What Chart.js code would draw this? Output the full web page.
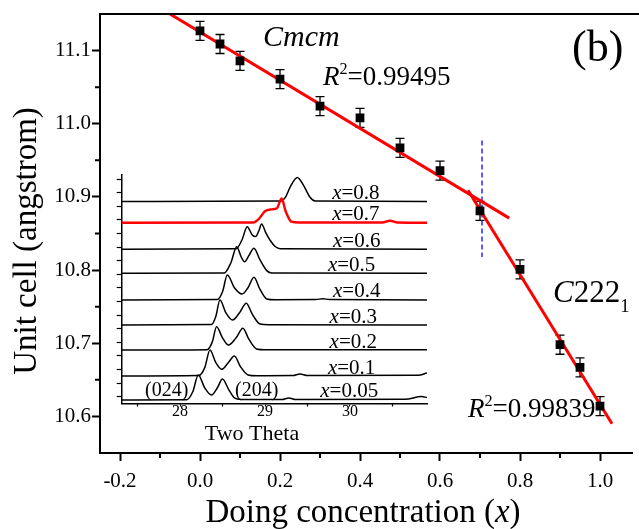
<!DOCTYPE html>
<html lang="en">
<head>
<meta charset="UTF-8">
<title>Unit cell vs doping concentration</title>
<script src="https://cdn.jsdelivr.net/npm/chart.js"></script>
<style>
  body { margin: 0; background: #fff; overflow: hidden; }
  #wrap { position: relative; width: 639px; height: 529px; }
  #wrap canvas { position: absolute; left: 0; top: 0; }
</style>
</head>
<body>
<div id="wrap">
  <canvas id="mainChart" width="639" height="529"></canvas>
  <canvas id="insetChart" width="639" height="529"></canvas>
</div>
<script>
// ---- main panel: unit cell vs x ----
const conc    = [0.0, 0.05, 0.1, 0.2, 0.3, 0.4, 0.5, 0.6, 0.7, 0.8, 0.9, 0.95, 1.0];
const cell    = [11.127, 11.109, 11.086, 11.061, 11.024, 11.008, 10.967, 10.936, 10.881, 10.801, 10.698, 10.667, 10.614];
const cellErr = [0.013, 0.013, 0.013, 0.013, 0.013, 0.013, 0.013, 0.013, 0.013, 0.013, 0.013, 0.013, 0.013];

const fitCmcmX = [-0.075, 0.773];
const fitCmcmY = [11.15, 10.871];
const fitC222X = [0.670, 1.030];
const fitC222Y = [10.909, 10.590];
const boundaryX = [0.705, 0.705];
const boundaryY = [10.977, 10.818];

const xMajor = [-0.2, 0.0, 0.2, 0.4, 0.6, 0.8, 1.0];
const xMinor = [-0.1, 0.1, 0.3, 0.5, 0.7, 0.9];
const yMajor = [10.6, 10.7, 10.8, 10.9, 11.0, 11.1];
const yMinor = [10.65, 10.75, 10.85, 10.95, 11.05];

// ---- inset: XRD scans, [2theta, intensity] ----
const scanNames  = ['0.05', '0.1', '0.2', '0.3', '0.4', '0.5', '0.6', '0.7', '0.8'];
const scanOffset = [-0.24, 1.52, 3.43, 5.27, 7.11, 9.07, 10.84, 12.79, 14.36];
const scanLabelTheta = [29.65, 29.74, 29.76, 29.76, 29.80, 29.74, 29.80, 29.79, 29.79];
const scans = [
  [[27.314,0],[28.08,0.02],[28.15,0.6],[28.215,1.84],[28.29,0.9],[28.37,0.37],[28.44,0.9],[28.50,1.54],[28.57,0.8],[28.64,0.15],[28.72,0.03],[29.2,0.03],[29.28,0.15],[29.36,0.03],[30.65,0.05],[30.84,0.25],[30.906,0.18]],
  [[27.314,0],[28.22,0.03],[28.29,0.6],[28.353,1.91],[28.42,1.0],[28.49,0.49],[28.57,1.0],[28.64,1.47],[28.71,0.7],[28.80,0.08],[28.9,0.02],[29.33,0.03],[29.41,0.15],[29.5,0.03],[30.8,0.05],[30.906,0.22]],
  [[27.314,0],[28.32,0.03],[28.38,0.6],[28.43,1.71],[28.50,0.9],[28.57,0.37],[28.66,0.9],[28.74,1.6],[28.81,0.8],[28.90,0.08],[29.0,0.02],[30.906,0.02]],
  [[27.314,0],[28.37,0.03],[28.42,0.6],[28.47,1.84],[28.54,0.9],[28.62,0.37],[28.70,0.9],[28.78,1.6],[28.85,0.8],[28.94,0.08],[29.05,0.02],[30.906,0]],
  [[27.314,0],[28.44,0.03],[28.50,0.6],[28.557,1.84],[28.64,0.9],[28.73,0.44],[28.80,0.9],[28.87,1.67],[28.94,0.8],[29.02,0.08],[29.12,0.02],[29.6,0.03],[29.68,0.1],[29.76,0.03],[30.906,0]],
  [[27.314,0],[28.52,0.03],[28.60,0.8],[28.667,1.96],[28.72,1.2],[28.76,0.85],[28.81,1.3],[28.87,1.84],[28.94,1.0],[29.02,0.2],[29.08,0.03],[30.906,0]],
  [[27.314,0],[28.66,0.03],[28.73,0.7],[28.79,1.66],[28.85,1.05],[28.89,0.93],[28.93,1.4],[28.96,1.86],[29.01,1.2],[29.06,0.66],[29.12,0.2],[29.18,0.03],[30.906,0]],
  [[27.314,0],[28.86,0.02],[28.93,0.3],[29.0,0.85],[29.08,0.98],[29.14,1.06],[29.196,1.79],[29.24,0.9],[29.27,0.45],[29.31,0.08],[29.4,0.02],[30.38,0.02],[30.47,0.15],[30.56,0.02],[30.906,0]],
  [[27.314,0],[29.18,0.02],[29.24,0.3],[29.30,1.1],[29.38,1.76],[29.46,1.1],[29.53,0.3],[29.59,0.03],[30.906,0]]
];
const thetaMajor = [28, 29, 30];
const thetaMinor = [27.5, 28.5, 29.5, 30.5];
const insetYTicks = [0,1,2,3,4,5,6,7,8,9,10,11,12,13,14,15,16];

const SERIF = '"Liberation Serif", "Times New Roman", serif';

// draw a run of text pieces (italic / superscript / subscript)
function richWidth(ctx, parts, size) {
  let w = 0;
  parts.forEach(p => {
    const s = (p.sup || p.sub) ? size * 0.6 : size;
    ctx.font = (p.it ? 'italic ' : '') + s + 'px ' + SERIF;
    w += ctx.measureText(p.t).width;
  });
  return w;
}
function richText(ctx, x, y, parts, size) {
  let cx = x;
  ctx.textBaseline = 'alphabetic';
  ctx.textAlign = 'left';
  parts.forEach(p => {
    const s = (p.sup || p.sub) ? size * 0.6 : size;
    ctx.font = (p.it ? 'italic ' : '') + s + 'px ' + SERIF;
    const dy = p.sup ? -size * 0.42 : (p.sub ? size * 0.32 : 0);
    ctx.fillText(p.t, cx, y + dy);
    cx += ctx.measureText(p.t).width + (p.gap || 0);
  });
}

const pts = (xs, ys) => xs.map((x, i) => ({ x: x, y: ys[i] }));

const errorBars = {
  id: 'errorBars',
  beforeDatasetsDraw(chart) {
    const ctx = chart.ctx, xs = chart.scales.x, ys = chart.scales.y;
    ctx.save();
    ctx.strokeStyle = '#000';
    ctx.lineWidth = 1.3;
    conc.forEach((c, i) => {
      const px = xs.getPixelForValue(c);
      const top = ys.getPixelForValue(cell[i] + cellErr[i]);
      const bot = ys.getPixelForValue(cell[i] - cellErr[i]);
      ctx.beginPath();
      ctx.moveTo(px, top); ctx.lineTo(px, bot);
      ctx.moveTo(px - 4.5, top); ctx.lineTo(px + 4.5, top);
      ctx.moveTo(px - 4.5, bot); ctx.lineTo(px + 4.5, bot);
      ctx.stroke();
    });
    ctx.restore();
  }
};

const mainDecor = {
  id: 'mainDecor',
  afterDraw(chart) {
    const ctx = chart.ctx, a = chart.chartArea;
    const xs = chart.scales.x, ys = chart.scales.y;
    ctx.save();
    ctx.strokeStyle = '#000';
    ctx.lineWidth = 2;
    ctx.beginPath();
    ctx.moveTo(a.left - 1, a.top); ctx.lineTo(639, a.top);
    // minor ticks
    xMinor.forEach(v => { const p = xs.getPixelForValue(v); ctx.moveTo(p, a.bottom); ctx.lineTo(p, a.bottom + 5); });
    yMinor.forEach(v => { const p = ys.getPixelForValue(v); ctx.moveTo(a.left, p); ctx.lineTo(a.left - 5, p); });
    ctx.stroke();

    ctx.fillStyle = '#000';
    richText(ctx, 263, 46, [{ t: 'Cmcm', it: true }], 30);
    richText(ctx, 323, 85, [{ t: 'R', it: true }, { t: '2', sup: true }, { t: '=0.99495' }], 27);
    richText(ctx, 572, 61, [{ t: '(b)' }], 44);
    richText(ctx, 553, 302, [{ t: 'C', it: true }, { t: '222' }, { t: '1', sub: true }], 31);
    richText(ctx, 468, 417, [{ t: 'R', it: true }, { t: '2', sup: true }, { t: '=0.99839' }], 27);

    // axis titles
    const xt = [{ t: 'Doing concentration (' }, { t: 'x', it: true }, { t: ')' }];
    const w = richWidth(ctx, xt, 33);
    richText(ctx, 363 - w / 2, 522, xt, 33);
    ctx.translate(36, 241);
    ctx.rotate(-Math.PI / 2);
    ctx.font = '33px ' + SERIF;
    ctx.textAlign = 'center';
    ctx.textBaseline = 'alphabetic';
    ctx.fillText('Unit cell (angstrom)', 0, 0);
    ctx.restore();
  }
};

new Chart(document.getElementById('mainChart'), {
  type: 'scatter',
  data: {
    datasets: [
      { data: pts(conc, cell), pointStyle: 'rect', pointRadius: 6.2, backgroundColor: '#000', borderColor: '#000', borderWidth: 0, order: 0 },
      { data: pts(fitCmcmX, fitCmcmY), showLine: true, borderColor: '#ff0000', borderWidth: 3, pointRadius: 0, order: 1 },
      { data: pts(fitC222X, fitC222Y), showLine: true, borderColor: '#ff0000', borderWidth: 3, pointRadius: 0, order: 1 },
      { data: pts(boundaryX, boundaryY), showLine: true, borderColor: '#1a1aff', borderWidth: 1.4, borderDash: [5, 3], pointRadius: 0, order: 2 }
    ]
  },
  options: {
    responsive: false,
    animation: false,
    events: [],
    devicePixelRatio: 1,
    layout: { padding: { left: 0, right: 0, top: 14, bottom: 0 } },
    plugins: { legend: { display: false }, tooltip: { enabled: false } },
    scales: {
      x: {
        type: 'linear', min: -0.25, max: 1.082,
        afterBuildTicks: s => { s.ticks = xMajor.map(v => ({ value: v })); },
        afterFit: s => { s.height = 76; },
        grid: { display: true, drawOnChartArea: false, drawTicks: true, tickLength: 8, tickWidth: 2, tickColor: '#000' },
        border: { display: true, color: '#000', width: 2 },
        ticks: { font: { family: SERIF, size: 21 }, color: '#000', padding: 8, maxRotation: 0, autoSkip: false,
                 callback: v => Number(v).toFixed(1) }
      },
      y: {
        type: 'linear', min: 10.55, max: 11.15,
        afterBuildTicks: s => { s.ticks = yMajor.map(v => ({ value: v })); },
        afterFit: s => { s.width = 100; },
        grid: { display: true, drawOnChartArea: false, drawTicks: true, tickLength: 8, tickWidth: 2, tickColor: '#000' },
        border: { display: true, color: '#000', width: 2 },
        ticks: { font: { family: SERIF, size: 21 }, color: '#000', padding: 1, autoSkip: false,
                 callback: v => Number(v).toFixed(1) }
      }
    }
  },
  plugins: [errorBars, mainDecor]
});

// ---- inset ----
const insetDecor = {
  id: 'insetDecor',
  afterDraw(chart) {
    const ctx = chart.ctx, a = chart.chartArea;
    const xs = chart.scales.x, ys = chart.scales.y;
    ctx.save();
    ctx.strokeStyle = '#000';
    ctx.lineWidth = 1.2;
    ctx.beginPath();
    thetaMinor.forEach(v => { const p = xs.getPixelForValue(v); ctx.moveTo(p, a.bottom); ctx.lineTo(p, a.bottom + 3); });
    ctx.stroke();
    ctx.fillStyle = '#000';
    scanNames.forEach((n, i) => {
      const px = xs.getPixelForValue(scanLabelTheta[i]);
      const py = ys.getPixelForValue(scanOffset[i]) - 2.5;
      richText(ctx, px, py, [{ t: 'x', it: true }, { t: '=' + n }], 21);
    });
    richText(ctx, 145, 396, [{ t: '(024)' }], 20);
    richText(ctx, 235, 396, [{ t: '(204)' }], 20);
    ctx.font = '22px ' + SERIF;
    ctx.textAlign = 'center';
    ctx.fillText('Two Theta', 252, 440);
    ctx.restore();
  }
};

new Chart(document.getElementById('insetChart'), {
  type: 'scatter',
  data: {
    datasets: scans.map((s, i) => ({
      data: s.map(p => ({ x: p[0], y: p[1] + scanOffset[i] })),
      showLine: true,
      cubicInterpolationMode: 'monotone',
      borderColor: scanNames[i] === '0.7' ? '#ff0000' : '#000',
      borderWidth: scanNames[i] === '0.7' ? 2.4 : 1.5,
      pointRadius: 0
    }))
  },
  options: {
    responsive: false,
    animation: false,
    events: [],
    devicePixelRatio: 1,
    layout: { padding: { left: 111.7, right: 212, top: 175, bottom: 95.5 } },
    plugins: { legend: { display: false }, tooltip: { enabled: false } },
    scales: {
      x: {
        type: 'linear', min: 27.314, max: 30.906,
        afterBuildTicks: s => { s.ticks = thetaMajor.map(v => ({ value: v })); },
        afterFit: s => { s.height = 30; },
        grid: { display: true, drawOnChartArea: false, drawTicks: true, tickLength: 3, tickWidth: 1.2, tickColor: '#000' },
        border: { display: true, color: '#000', width: 1.5 },
        ticks: { font: { family: SERIF, size: 16 }, color: '#000', padding: -4, maxRotation: 0, autoSkip: false,
                 callback: v => String(v) }
      },
      y: {
        type: 'linear', min: -0.5, max: 16.3,
        afterBuildTicks: s => { s.ticks = insetYTicks.map(v => ({ value: v })); },
        afterFit: s => { s.width = 10; },
        grid: { display: true, drawOnChartArea: false, drawTicks: true, tickLength: 5, tickWidth: 1.2, tickColor: '#000' },
        border: { display: true, color: '#000', width: 1.5 },
        ticks: { display: false }
      }
    }
  },
  plugins: [insetDecor]
});
</script>
</body>
</html>
